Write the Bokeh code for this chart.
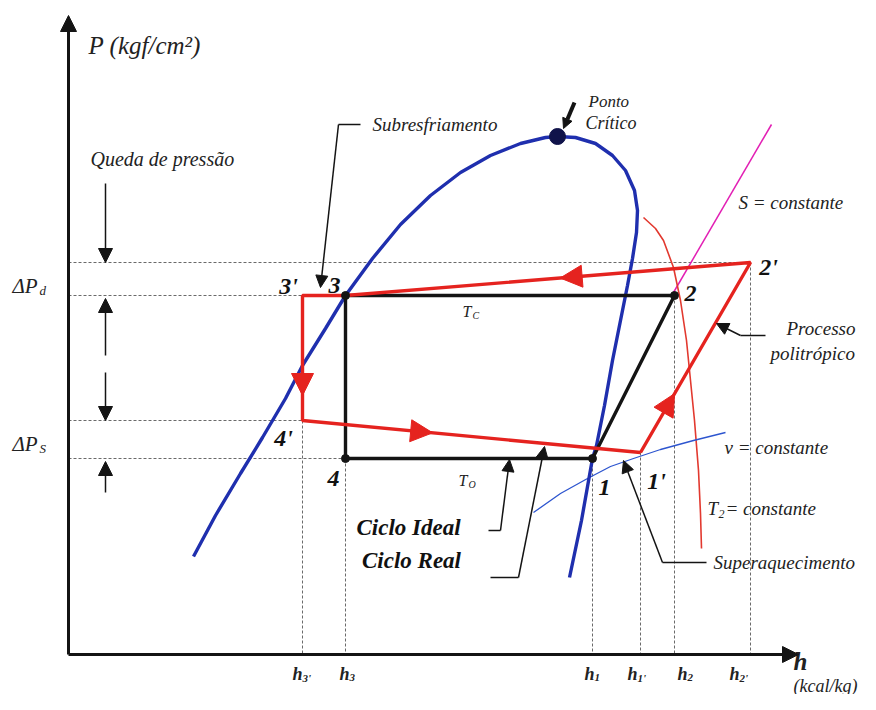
from bokeh.plotting import figure
from bokeh.models import Range1d, Arrow, NormalHead
from bokeh.core.properties import value
from bokeh.embed import file_html
from bokeh.resources import INLINE
import math

# ---------------- data (h and P in diagram units) ----------------
h_names = ["3'", "3", "1", "1'", "2", "2'"]
h_vals = [302, 345, 592, 640, 674, 750]

state_labels = ["1", "2", "3", "4", "1'", "2'", "3'", "4'"]
state_h = [592, 674, 345, 345, 640, 750, 302, 302]
state_P = [252, 415, 415, 252, 258, 448, 415, 290]

# saturation dome (liquid branch -> critical point -> vapour branch)
dome_h = [193, 215, 240, 262, 285, 302, 325, 345, 372, 400, 430, 460, 490, 520, 545, 557,
          575, 595, 612, 625, 634, 637, 636, 632, 627, 620, 612, 604, 596, 592, 581, 569]
dome_P = [154, 195, 237, 273, 312, 345, 382, 415, 452, 486, 515, 538, 555, 567, 573, 574,
          573, 567, 555, 540, 520, 500, 478, 452, 425, 390, 350, 305, 265, 252, 190, 133]
crit_h, crit_P = 557, 574

# isotherm T2 = constante
t2_h = [643, 655, 663, 673, 680, 686, 690, 694, 698, 700, 701]
t2_P = [493, 482, 470, 443, 410, 370, 330, 290, 240, 197, 162]
# isochore v = constante
v_h = [533, 560, 587, 610, 633, 660, 693, 725]
v_P = [198, 217, 232, 244, 252, 261, 270, 278]
# isentrope S = constante
s_h = [673, 771]
s_P = [418, 586]

# axes extents
axis_h0, axis_P0 = 68, 56
axis_hmax, axis_Pmax = 798, 695

# ---------------- figure ----------------
p = figure(width=860, height=694, x_range=Range1d(0, 860), y_range=Range1d(16, 710),
           output_backend="svg", toolbar_location=None, min_border=0,
           x_axis_location=None, y_axis_location=None)
p.grid.visible = False
p.outline_line_color = None
p.background_fill_color = "white"

S = dict(zip(state_labels, zip(state_h, state_P)))

RED = "#e5231f"
BLUE = "#1f2fae"
BLACK = "#141414"
DOT = "#6a6a6a"
TXT = "#222222"
SERIF = value("Liberation Serif")


def arrow(x0, y0, x1, y1, color=BLACK, lw=1.5, size=12):
    p.add_layout(Arrow(end=NormalHead(size=size, fill_color=color, line_color=color, line_width=1),
                       x_start=x0, y_start=y0, x_end=x1, y_end=y1,
                       line_color=color, line_width=lw))


# dotted guide lines
lev = [(S["2'"][1], S["2'"][0]), (S["3"][1], S["3"][0]), (S["4'"][1], S["4'"][0]), (S["4"][1], S["4"][0])]
for P, hx in lev:
    p.line([axis_h0, hx], [P, P], line_color=DOT, line_width=1, line_dash="3 2")
vert_from = {"3'": "4'", "3": "4", "1": "1", "1'": "1'", "2": "2", "2'": "2'"}
for nm, hv in zip(h_names, h_vals):
    p.line([hv, hv], [S[vert_from[nm]][1], axis_P0], line_color=DOT, line_width=1, line_dash="3 2")

# property lines
p.line(s_h, s_P, line_color="#e21fb4", line_width=1.5)
p.line(t2_h, t2_P, line_color="#e2392f", line_width=1.6)
p.line(v_h, v_P, line_color="#2d55cf", line_width=1.3)

# dome
p.line(dome_h, dome_P, line_color=BLUE, line_width=3.4)
p.scatter([crit_h], [crit_P], size=16, color="#10134a")

# ideal cycle
ideal_seq = ["1", "2", "3", "4", "1"]
p.line([S[k][0] for k in ideal_seq], [S[k][1] for k in ideal_seq], line_color=BLACK, line_width=3.4)

# real cycle
real_seq = ["1'", "2'", "3", "3'", "4'", "1'"]
p.line([S[k][0] for k in real_seq], [S[k][1] for k in real_seq], line_color=RED, line_width=3.4)

p.scatter([S[k][0] for k in ["1", "2", "3", "4"]], [S[k][1] for k in ["1", "2", "3", "4"]],
          size=8, color=BLACK)


def flow_arrow(a, b, t, length=22):
    ax, ay = S[a]
    bx, by = S[b]
    tx, ty = ax + (bx - ax) * t, ay + (by - ay) * t
    d = math.hypot(bx - ax, by - ay)
    ux, uy = (bx - ax) / d, (by - ay) / d
    arrow(tx - ux * length, ty - uy * length, tx, ty, color=RED, lw=3, size=22)


flow_arrow("2'", "3", 0.47)
flow_arrow("3'", "4'", 0.8)
flow_arrow("4'", "1'", 0.385)
flow_arrow("1'", "2'", 0.31)

# axes
arrow(axis_h0, axis_P0, axis_h0, axis_Pmax, lw=3, size=16)
arrow(axis_h0, axis_P0, axis_hmax, axis_P0, lw=3, size=16)

# pressure-drop arrows
arrow(105, 527, 105, S["2'"][1], size=14)
arrow(105, 355, 105, S["3"][1] - 3, size=14)
arrow(105, 338, 105, S["4'"][1], size=14)
arrow(105, 218, 105, S["4"][1] - 3, size=14)

# leaders
p.line([360, 338], [586, 586], line_color=BLACK, line_width=1.5)
arrow(338, 586, 320, 423)
arrow(574, 608, 563, 582, lw=4, size=10)
p.line([765, 740], [375, 375], line_color=BLACK, line_width=1.5)
arrow(740, 375, 716, 387)
p.line([706, 662], [148, 148], line_color=BLACK, line_width=1.5)
arrow(662, 148, 623, 250)
p.line([488, 500], [180, 180], line_color=BLACK, line_width=1.5)
arrow(500, 180, 509, 251)
p.line([490, 518], [133, 133], line_color=BLACK, line_width=1.5)
arrow(518, 133, 544, 264)


def txt(x, y, s, size, style="italic", align="left", color=TXT, xo=0, yo=0):
    p.text(x=[x], y=[y], text=[s], text_font=SERIF, text_font_style=style,
           text_font_size=f"{size}px", text_align=align, text_baseline="middle",
           text_color=color, x_offset=xo, y_offset=yo)


txt(88, 665, "P (kgf/cm²)", 25)
txt(90, 552, "Queda de pressão", 20)
txt(372, 586, "Subresfriamento", 19)
txt(588, 609, "Ponto", 17)
txt(585, 588, "Crítico", 18)
txt(738, 508, "S = constante", 19)
txt(786, 382, "Processo", 19)
txt(770, 357, "politrópico", 19)
txt(724, 263, "v = constante", 19)
txt(707, 202, "T", 19)
txt(707, 202, "2", 12, xo=11, yo=5)
txt(725, 202, "= constante", 19)
txt(713, 148, "Superaquecimento", 19)
txt(408, 183, "Ciclo Ideal", 23, style="bold italic", align="center", color="#111")
txt(411, 150, "Ciclo Real", 23, style="bold italic", align="center", color="#111")

# point labels
lab_pos = {"3'": (288, 425), "3": (334, 425), "2": (690, 417), "2'": (768, 444),
           "4'": (283, 273), "4": (333, 232), "1": (604, 223), "1'": (656, 230)}
for k, (x, y) in lab_pos.items():
    txt(x, y, k, 24, style="bold italic", align="center", color="#111")

# delta P labels
txt(12, 425, "ΔP", 21)
txt(12, 425, "d", 13, xo=27, yo=5)
txt(12, 267, "ΔP", 21)
txt(12, 267, "S", 13, xo=27, yo=5)
# temperature labels
txt(462, 399, "T", 16)
txt(462, 399, "C", 10, xo=10, yo=4)
txt(458, 230, "T", 16)
txt(458, 230, "O", 10, xo=10, yo=4)

# h tick labels
h_lab_x = [292, 339, 584, 627, 677, 729]
for nm, x in zip(h_names, h_lab_x):
    txt(x, 37, "h", 18, style="bold italic")
    txt(x, 37, nm, 11, style="bold italic", xo=10, yo=4)

txt(800, 49, "h", 25, style="bold italic", align="center")
txt(857, 25, "(kcal/kg)", 18, align="right")

open("out.html", "w").write(file_html(p, INLINE))
